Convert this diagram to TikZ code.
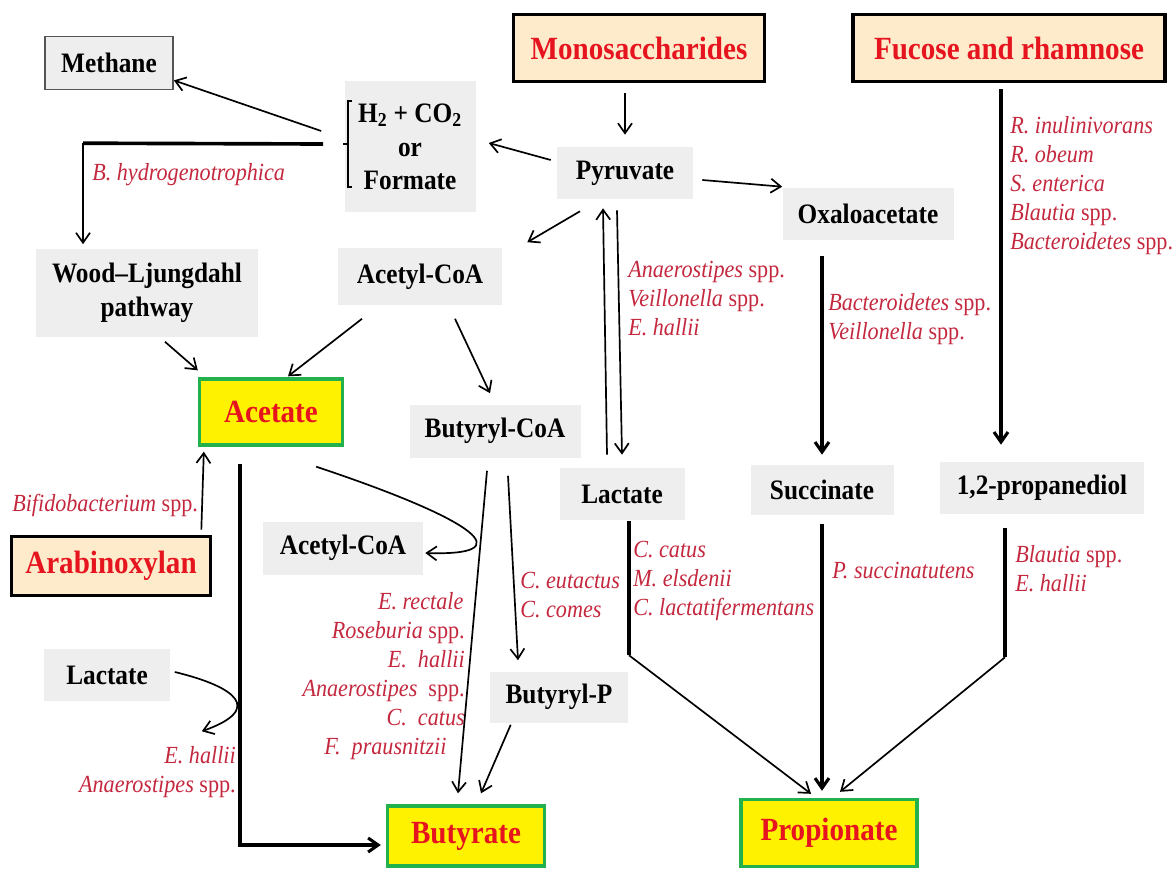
\documentclass[tikz,border=0pt]{standalone}
\usepackage{fontspec}
\setmainfont{Liberation Serif}[FakeStretch=0.9]
\usepackage{tikz}
\usetikzlibrary{arrows.meta}

\definecolor{cream}{HTML}{FDEBCB}
\definecolor{titlered}{HTML}{E6141E}
\definecolor{bactred}{HTML}{C4283E}
\definecolor{scfagreen}{HTML}{22B14C}
\definecolor{boxgray}{HTML}{EEEEEE}
\definecolor{methanegray}{HTML}{555555}

\begin{document}
\begin{tikzpicture}
	[ x=0.25mm, y=-0.25mm,
		source/.style={rectangle,draw=black,line width=2.6pt,fill=cream,text=titlered,font=\fontsize{23}{27}\selectfont\bfseries,inner sep=0pt},
		product/.style={rectangle,draw=scfagreen,line width=2.4pt,fill=yellow,text=titlered,font=\fontsize{23}{27}\selectfont\bfseries,inner sep=0pt},
		metab/.style={rectangle,fill=boxgray,font=\fontsize{20}{24}\selectfont\bfseries,align=center,inner sep=0pt},
		microbe/.style={text=bactred,font=\fontsize{17.5}{20.6}\selectfont,inner sep=0pt},
		arrowThin/.style={-{Straight Barb[length=2.5mm,width=3.5mm]},line width=1.2pt},
		arrowThick/.style={-{Straight Barb[length=2.5mm,width=3.5mm]},line width=2.2pt}]

	\useasboundingbox (0,0) rectangle (1173,876);

	\node[source,minimum width=62.75mm,minimum height=16.75mm] (mono) at (639,48) {Monosaccharides};
	\node[source,minimum width=78mm,minimum height=16.75mm] (fucose) at (1009,48) {Fucose and rhamnose};
	\node[source,minimum width=49.75mm,minimum height=14.75mm] (arabino) at (111,566) {Arabinoxylan};

	\node[product,minimum width=35.75mm,minimum height=16.5mm] (acetate) at (271,412) {Acetate};
	\node[product,minimum width=39.25mm,minimum height=15mm] (butyrate) at (466,836) {Butyrate};
	\node[product,minimum width=44mm,minimum height=16.75mm] (propionate) at (829,833) {Propionate};

	\node[metab,draw=methanegray,line width=1.2pt,minimum width=32mm,minimum height=13.25mm] (methane) at (109,63) {Methane};
	\node[metab,minimum width=32.75mm,minimum height=32.75mm] (h2) at (410,147) {H\textsubscript{2} + CO\textsubscript{2}\\or\\Formate};
	\node[metab,minimum width=34mm,minimum height=13mm] (pyruvate) at (625,173) {Pyruvate};
	\node[metab,minimum width=42.75mm,minimum height=13mm] (oxalo) at (868,214) {Oxaloacetate};
	\node[metab,minimum width=55.5mm,minimum height=21.75mm] (wood) at (147,293) {Wood--Ljungdahl\\pathway};
	\node[metab,minimum width=41mm,minimum height=14.25mm] (acetyl top) at (420,277) {Acetyl-CoA};
	\node[metab,minimum width=42.75mm,minimum height=13.25mm] (butyryl coa) at (495,431) {Butyryl-CoA};
	\node[metab,minimum width=31.25mm,minimum height=13mm] (lactate mid) at (622,494) {Lactate};
	\node[metab,minimum width=35.75mm,minimum height=12.5mm] (succinate) at (822,490) {Succinate};
	\node[metab,minimum width=51mm,minimum height=13mm] (propanediol) at (1042,488) {1,2-propanediol};
	\node[metab,minimum width=40mm,minimum height=13.25mm] (acetyl low) at (343,548) {Acetyl-CoA};
	\node[metab,minimum width=31.25mm,minimum height=13mm] (lactate left) at (107,675) {Lactate};
	\node[metab,minimum width=34.5mm,minimum height=12.75mm] (butyryl p) at (559,697) {Butyryl-P};

	\node[microbe,anchor=west] (hydro label) at (92,175) {\textit{B. hydrogenotrophica}};
	\node[microbe,anchor=north west,align=left] (fucose label) at (1010,116) {\textit{R. inulinivorans}\\\textit{R. obeum}\\\textit{S. enterica}\\\textit{Blautia} spp.\\\textit{Bacteroidetes} spp.};
	\node[microbe,anchor=north west,align=left] (lactate label) at (628,261) {\textit{Anaerostipes} spp.\\\textit{Veillonella} spp.\\\textit{E. hallii}};
	\node[microbe,anchor=north west,align=left] (oxalo label) at (828,293) {\textit{Bacteroidetes} spp.\\\textit{Veillonella} spp.};
	\node[microbe,anchor=west] (bifido label) at (12,505) {\textit{Bifidobacterium} spp.};
	\node[microbe,anchor=north west,align=left] (catus label) at (633,541) {\textit{C. catus}\\\textit{M. elsdenii}\\\textit{C. lactatifermentans}};
	\node[microbe,anchor=west] (succ label) at (832,571) {\textit{P. succinatutens}};
	\node[microbe,anchor=north west,align=left] (diol label) at (1015,545) {\textit{Blautia} spp.\\\textit{E. hallii}};
	\node[microbe,anchor=north west,align=left] (eutactus label) at (520,572) {\textit{C. eutactus}\\\textit{C. comes}};
	\node[microbe,anchor=north east,align=right] (rectale label) at (465,592) {\textit{E. rectale}\hspace*{1pt}\\\textit{Roseburia} spp.\\\textit{E.\ \ hallii}\hspace*{7pt}\\\textit{Anaerostipes}\ \ spp.\\\textit{C.\ \ catus}\hspace*{13pt}\\\textit{F.\ \ prausnitzii}\hspace*{13pt}};
	\node[microbe,anchor=north east,align=right] (hallii label) at (236,746) {\textit{E. hallii}\\\textit{Anaerostipes} spp.};

	\coordinate (fork) at ([shift={(-21,-3)}]h2.west);
	\coordinate (fork up) at ([shift={(-23,-16)}]h2.west);
	\draw[line width=1.2pt] (352,101) -- (348,101) -- (348,187) -- (352,187) (343,144) -- (348,144);

	\draw[arrowThin] (fork up) -- (methane.-15);
	\draw[line width=2.6pt] (fork) -- ([shift={(-64,-106)}]wood.north);
	\draw[arrowThin] ([shift={(-64,-106)}]wood.north) -- ([shift={(-64,-5)}]wood.north);

	\draw[arrowThin] (mono.south -| pyruvate) ++(0,10) -- ([yshift=3mm]pyruvate.north);
	\draw[arrowThin] ([shift={(-6,-13)}]pyruvate.west) -- ([shift={(13,-4)}]h2.east);
	\draw[arrowThin] ([shift={(9,7)}]pyruvate.east) -- ([shift={(0,-1)}]oxalo.north west);
	\draw[arrowThin] ([shift={(-45,12)}]pyruvate.south) -- ([shift={(25,-6)}]acetyl top.north east);
	\draw[arrowThin] ([shift={(-15,-13)}]lactate mid.north) -- ([shift={(-22,9)}]pyruvate.south);
	\draw[arrowThin] ([shift={(-8,11)}]pyruvate.south) -- ([shift={(0,-13)}]lactate mid.north);

	\draw[arrowThin] ([shift={(18,5)}]wood.south) -- ([shift={(0,-7)}]acetate.north west);
	\draw[arrowThin] ([shift={(-58,13)}]acetyl top.south) -- ([shift={(17,-1)}]acetate.north);
	\draw[arrowThin] ([shift={(35,13)}]acetyl top.south) -- ([shift={(-5,-11)}]butyryl coa.north);
	\draw[arrowThin] ([shift={(-11,-5)}]arabino.north east) -- ([shift={(6,5)}]acetate.south west);

	\draw[arrowThick] ([shift={(-31,17)}]acetate.south) |- ([shift={(-5,9)}]butyrate.west);
	\draw[arrowThin] ([shift={(-28,20)}]acetate.south east) .. controls +(165,55) and +(95,3) .. ([shift={(2,5)}]acetyl low.east);
	\draw[arrowThin] ([shift={(5,-3)}]lactate left.east) .. controls +(62,15) and +(62,-22) .. ([shift={(32,30)}]lactate left.south east);

	\draw[arrowThin] ([shift={(-8,13)}]butyryl coa.south) -- ([shift={(-8,-11)}]butyrate.north);
	\draw[arrowThin] ([shift={(13,18)}]butyryl coa.south) -- ([shift={(-41,-11)}]butyryl p.north);
	\draw[arrowThin] ([shift={(21,2)}]butyryl p.south west) -- ([shift={(15,-11)}]butyrate.north);

	\draw[arrowThick] ([yshift=-4mm]oxalo.south -| succinate.north) -- ([yshift=2.5mm]succinate.north);
	\draw[arrowThick] ([shift={(-8,6)}]fucose.south) -- ([shift={(-41,-17)}]propanediol.north);

	\draw[line width=2.2pt] ([shift={(7,1)}]lactate mid.south) -- ++(0,134) coordinate (lactate bend);
	\draw[arrowThin] (lactate bend) -- ([shift={(-18,-4)}]propionate.north);
	\draw[arrowThick] ([yshift=-2.25mm]succinate.south) -- ([yshift=1.75mm]succinate.south |- propionate.north);
	\draw[line width=2.2pt] ([shift={(-37,14)}]propanediol.south) -- ++(0,129) coordinate (diol bend);
	\draw[arrowThin] (diol bend) -- ([shift={(11,-6)}]propionate.north);
\end{tikzpicture}
\end{document}
